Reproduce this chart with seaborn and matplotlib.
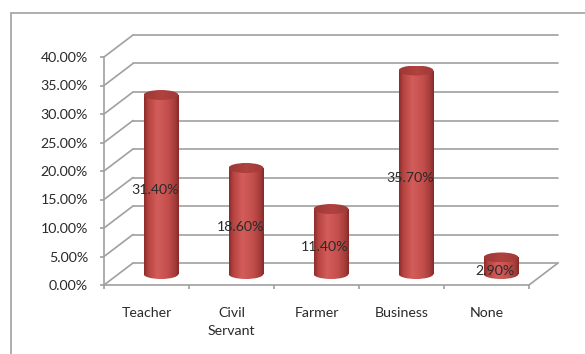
import numpy as np
import pandas as pd
import matplotlib
matplotlib.use("Agg")
import matplotlib.pyplot as plt
import seaborn as sns
from matplotlib.patches import Ellipse
from matplotlib.lines import Line2D
from matplotlib.colors import LinearSegmentedColormap
from matplotlib.ticker import FuncFormatter, FixedLocator

# ---- data ----
categories = ["Teacher", "Civil\nServant", "Farmer", "Business", "None"]
values = [31.40, 18.60, 11.40, 35.70, 2.90]
value_labels = ["31.40%", "18.60%", "11.40%", "35.70%", "2.90%"]
yticks = [0, 5, 10, 15, 20, 25, 30, 35, 40]

sns.set_theme(style="white")
plt.rcParams['font.family'] = ['Lato', 'DejaVu Sans']

W, H = 585, 354
FS = 10.2
fig = plt.figure(figsize=(W / 100, H / 100), dpi=100)
fig.patch.set_facecolor("white")
ax = fig.add_axes([104 / W, (H - 285) / H, 425 / W, 228 / H])

df = pd.DataFrame({"cat": categories, "val": values})
sns.barplot(data=df, x="cat", y="val", ax=ax, color="#c0504d", width=0.41,
            saturation=1, zorder=5)

# 3-D oblique depth (in data units)
DX = 29 / 85
DY = 22 / 5.7
EH = 10 / 5.7          # ellipse height in data units
grid_col = "#a0a0a0"
lw = 1.2

# back wall grid + side diagonals
for v in yticks:
    ax.plot([-0.5, -0.5 + DX], [v, v + DY], color=grid_col, lw=lw, clip_on=False, zorder=1)
    ax.plot([-0.5 + DX, 4.5 + DX], [v + DY, v + DY], color=grid_col, lw=lw, clip_on=False, zorder=1)
ax.plot([4.5, 4.5 + DX], [0, DY], color=grid_col, lw=lw, clip_on=False, zorder=1)

body_cmap = LinearSegmentedColormap.from_list(
    "body", [(0, "#8a2c2a"), (0.12, "#b54340"), (0.38, "#d35d5a"),
             (0.7, "#c24e4b"), (0.9, "#a33b39"), (1, "#842a28")])
top_cmap = LinearSegmentedColormap.from_list(
    "top", [(0, "#9c3836"), (0.5, "#b0423f"), (1, "#a03a38")])
grad = np.linspace(0, 1, 256).reshape(1, -1)

for i, (patch, v) in enumerate(zip(ax.patches, values)):
    w = patch.get_width()
    cx = i + DX / 2
    base = DY / 2
    patch.set_x(cx - w / 2)
    patch.set_y(base)
    patch.set_height(v)
    patch.set_facecolor("none")
    patch.set_edgecolor("none")
    x0, x1 = cx - w / 2, cx + w / 2
    im = ax.imshow(grad, cmap=body_cmap, aspect="auto", extent=[x0, x1, base, base + v],
                   zorder=4, interpolation="bilinear")
    im.set_clip_path(patch)
    # bottom ellipse
    e_bot = Ellipse((cx, base), w, EH, facecolor="none", edgecolor="none")
    ax.add_patch(e_bot)
    im2 = ax.imshow(grad, cmap=body_cmap, aspect="auto",
                    extent=[x0, x1, base - EH / 2, base + EH / 2], zorder=4,
                    interpolation="bilinear")
    im2.set_clip_path(e_bot)
    # top ellipse
    e_top = Ellipse((cx, base + v), w, EH, facecolor="none", edgecolor="none")
    ax.add_patch(e_top)
    im3 = ax.imshow(grad, cmap=top_cmap, aspect="auto",
                    extent=[x0, x1, base + v - EH / 2, base + v + EH / 2], zorder=6,
                    interpolation="bilinear")
    im3.set_clip_path(e_top)
    ax.text(i + 0.1, v / 2 + DY / 2 - 1, value_labels[i], ha="center", va="center",
            fontsize=FS, color="#2a2a2a", zorder=10)

ax.set_xlim(-0.5, 4.5)
ax.set_ylim(0, 40)
ax.set_xlabel("")
ax.set_ylabel("")
ax.set_facecolor("none")
ax.yaxis.set_major_locator(FixedLocator(yticks))
ax.yaxis.set_major_formatter(FuncFormatter(lambda v, p: f"{v:.2f}%"))
ax.xaxis.set_minor_locator(FixedLocator([-0.5, 0.5, 1.5, 2.5, 3.5, 4.5]))

for s in ["top", "right"]:
    ax.spines[s].set_visible(False)
for s in ["left", "bottom"]:
    ax.spines[s].set_color(grid_col)
    ax.spines[s].set_linewidth(lw)
    ax.spines[s].set_zorder(2)

ax.tick_params(axis="y", which="major", left=True, length=3, width=lw, color=grid_col,
               pad=8.5, labelsize=FS, labelcolor="#2a2a2a")
ax.tick_params(axis="x", which="major", bottom=False, length=0, pad=16,
               labelsize=FS, labelcolor="#2a2a2a")
ax.tick_params(axis="x", which="minor", bottom=True, length=3.2, width=lw, color=grid_col)
for t in ax.get_xticklabels():
    t.set_linespacing(1.6)

# outer chart-area border (cropped on right/bottom)
fig.add_artist(Line2D([11 / W, 1], [1 - 13 / H, 1 - 13 / H], transform=fig.transFigure,
                      color="#a8a8a8", lw=1.3))
fig.add_artist(Line2D([11 / W, 11 / W], [1 - 13 / H, 0], transform=fig.transFigure,
                      color="#a8a8a8", lw=1.3))

fig.savefig("out.png", dpi=100, facecolor="white")
